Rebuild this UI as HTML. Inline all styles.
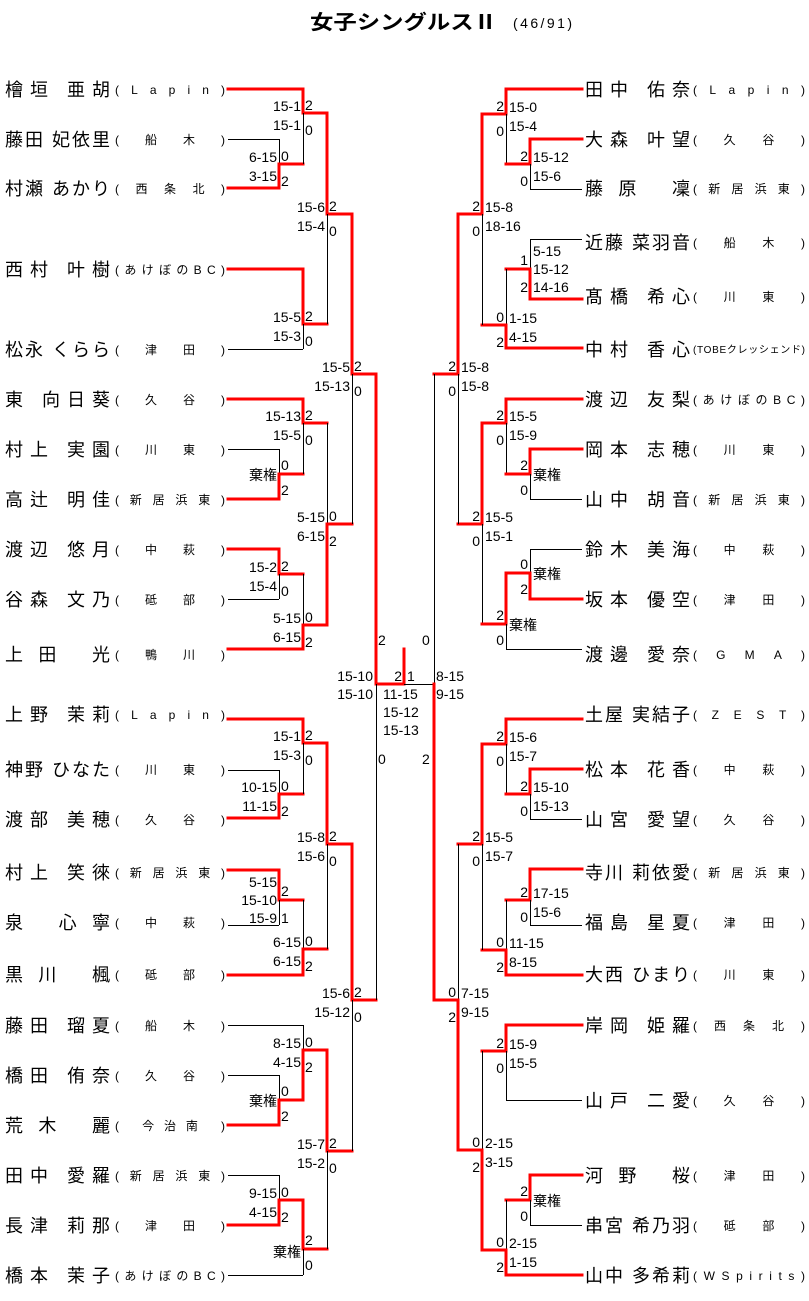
<!DOCTYPE html>
<html><head><meta charset="utf-8"><style>
html,body{margin:0;padding:0;background:#fff;}
svg{display:block;}
text{font-family:"Liberation Sans","Noto Sans CJK JP",sans-serif;fill:#000;}
.r{stroke:#f00;stroke-width:3;stroke-linecap:square;fill:none;}
.b{stroke:#000;stroke-width:1;fill:none;}
.s{font-size:14px;}
.n{font-size:18px;}
.t{font-size:12px;}
</style></head><body>
<svg width="809" height="1301" viewBox="0 0 809 1301" xmlns="http://www.w3.org/2000/svg">
<text x="310" y="29" style="font-size:20px;font-weight:bold" textLength="187" lengthAdjust="spacingAndGlyphs">女子シングルスⅡ</text>
<text x="513" y="28" style="font-size:14px" textLength="59" lengthAdjust="spacing">(46/91)</text>

<g>
<line class="r" x1="228" y1="89" x2="303" y2="89"/>
<line class="b" x1="228" y1="139.5" x2="279" y2="139.5"/>
<line class="r" x1="228" y1="188" x2="279" y2="188"/>
<line class="r" x1="228" y1="269" x2="303" y2="269"/>
<line class="b" x1="228" y1="349.5" x2="303" y2="349.5"/>
<line class="r" x1="228" y1="399" x2="303" y2="399"/>
<line class="b" x1="228" y1="449.5" x2="279" y2="449.5"/>
<line class="r" x1="228" y1="499" x2="279" y2="499"/>
<line class="r" x1="228" y1="549" x2="279" y2="549"/>
<line class="b" x1="228" y1="599.5" x2="279" y2="599.5"/>
<line class="r" x1="228" y1="649" x2="303" y2="649"/>
<line class="r" x1="228" y1="719" x2="303" y2="719"/>
<line class="b" x1="228" y1="770.5" x2="279" y2="770.5"/>
<line class="r" x1="228" y1="818" x2="279" y2="818"/>
<line class="r" x1="228" y1="870" x2="279" y2="870"/>
<line class="b" x1="228" y1="925.5" x2="279" y2="925.5"/>
<line class="r" x1="228" y1="975" x2="303" y2="975"/>
<line class="b" x1="228" y1="1025.5" x2="303" y2="1025.5"/>
<line class="b" x1="228" y1="1075.5" x2="279" y2="1075.5"/>
<line class="r" x1="228" y1="1125" x2="279" y2="1125"/>
<line class="b" x1="228" y1="1175.5" x2="279" y2="1175.5"/>
<line class="r" x1="228" y1="1225" x2="279" y2="1225"/>
<line class="b" x1="228" y1="1275.5" x2="303" y2="1275.5"/>
</g>
<g>
<line class="b" x1="279.5" y1="139" x2="279.5" y2="164"/><polyline class="r" points="279,188 279,164 303,164"/>
<polyline class="r" points="303,89 303,113 327,113"/><line class="b" x1="303.5" y1="113" x2="303.5" y2="164"/>
<polyline class="r" points="303,269 303,324 327,324"/><line class="b" x1="303.5" y1="324" x2="303.5" y2="349"/>
<polyline class="r" points="327,113 327,214 352,214"/><line class="b" x1="327.5" y1="214" x2="327.5" y2="324"/>
<line class="b" x1="279.5" y1="449" x2="279.5" y2="474"/><polyline class="r" points="279,499 279,474 303,474"/>
<polyline class="r" points="303,399 303,423 327,423"/><line class="b" x1="303.5" y1="423" x2="303.5" y2="474"/>
<polyline class="r" points="279,549 279,574 303,574"/><line class="b" x1="279.5" y1="574" x2="279.5" y2="599"/>
<line class="b" x1="303.5" y1="574" x2="303.5" y2="625"/><polyline class="r" points="303,649 303,625 327,625"/>
<line class="b" x1="327.5" y1="423" x2="327.5" y2="524"/><polyline class="r" points="327,625 327,524 352,524"/>
<polyline class="r" points="352,214 352,374 376,374"/><line class="b" x1="352.5" y1="374" x2="352.5" y2="524"/>
<line class="b" x1="279.5" y1="770" x2="279.5" y2="794"/><polyline class="r" points="279,818 279,794 303,794"/>
<polyline class="r" points="303,719 303,743 327,743"/><line class="b" x1="303.5" y1="743" x2="303.5" y2="794"/>
<polyline class="r" points="279,870 279,900 303,900"/><line class="b" x1="279.5" y1="900" x2="279.5" y2="925"/>
<line class="b" x1="303.5" y1="900" x2="303.5" y2="949"/><polyline class="r" points="303,975 303,949 327,949"/>
<polyline class="r" points="327,743 327,844 352,844"/><line class="b" x1="327.5" y1="844" x2="327.5" y2="949"/>
<line class="b" x1="303.5" y1="1025" x2="303.5" y2="1050"/><polyline class="r" points="303,1100 303,1050 327,1050"/>
<line class="b" x1="279.5" y1="1075" x2="279.5" y2="1100"/><polyline class="r" points="279,1125 279,1100 303,1100"/>
<line class="b" x1="279.5" y1="1175" x2="279.5" y2="1200"/><polyline class="r" points="279,1225 279,1200 303,1200"/>
<polyline class="r" points="303,1200 303,1249 327,1249"/><line class="b" x1="303.5" y1="1249" x2="303.5" y2="1275"/>
<polyline class="r" points="327,1050 327,1151 352,1151"/><line class="b" x1="327.5" y1="1151" x2="327.5" y2="1249"/>
<polyline class="r" points="352,844 352,1000 376,1000"/><line class="b" x1="352.5" y1="1000" x2="352.5" y2="1151"/>
<polyline class="r" points="376,374 376,684 404,684 404,649"/><line class="b" x1="376.5" y1="684" x2="376.5" y2="1000"/>
<line class="b" x1="404" y1="684.5" x2="434" y2="684.5"/>
</g>

<g>
<line class="r" x1="506" y1="89" x2="582" y2="89"/>
<line class="r" x1="530" y1="139" x2="582" y2="139"/>
<line class="b" x1="530" y1="189.5" x2="582" y2="189.5"/>
<line class="b" x1="530" y1="239.5" x2="582" y2="239.5"/>
<line class="r" x1="530" y1="299" x2="582" y2="299"/>
<line class="r" x1="506" y1="348" x2="582" y2="348"/>
<line class="r" x1="506" y1="399" x2="582" y2="399"/>
<line class="r" x1="530" y1="449" x2="582" y2="449"/>
<line class="b" x1="530" y1="499.5" x2="582" y2="499.5"/>
<line class="b" x1="530" y1="549.5" x2="582" y2="549.5"/>
<line class="r" x1="530" y1="599" x2="582" y2="599"/>
<line class="b" x1="506" y1="649.5" x2="582" y2="649.5"/>
<line class="r" x1="506" y1="719" x2="582" y2="719"/>
<line class="r" x1="530" y1="769" x2="582" y2="769"/>
<line class="b" x1="530" y1="819.5" x2="582" y2="819.5"/>
<line class="r" x1="530" y1="869" x2="582" y2="869"/>
<line class="b" x1="530" y1="925.5" x2="582" y2="925.5"/>
<line class="r" x1="506" y1="975" x2="582" y2="975"/>
<line class="r" x1="506" y1="1025" x2="582" y2="1025"/>
<line class="b" x1="506" y1="1100.5" x2="582" y2="1100.5"/>
<line class="r" x1="530" y1="1175" x2="582" y2="1175"/>
<line class="b" x1="530" y1="1225.5" x2="582" y2="1225.5"/>
<line class="r" x1="506" y1="1275" x2="582" y2="1275"/>
</g>
<g>
<polyline class="r" points="506,89 506,114 482,114"/><line class="b" x1="506.5" y1="114" x2="506.5" y2="164"/>
<polyline class="r" points="530,139 530,164 506,164"/><line class="b" x1="530.5" y1="164" x2="530.5" y2="189"/>
<line class="b" x1="530.5" y1="239" x2="530.5" y2="269"/><polyline class="r" points="530,299 530,269 506,269"/>
<line class="b" x1="506.5" y1="269" x2="506.5" y2="325"/><polyline class="r" points="506,348 506,325 482,325"/>
<polyline class="r" points="482,114 482,214 458,214"/><line class="b" x1="482.5" y1="214" x2="482.5" y2="325"/>
<polyline class="r" points="506,399 506,423 482,423"/><line class="b" x1="506.5" y1="423" x2="506.5" y2="474"/>
<polyline class="r" points="530,449 530,474 506,474"/><line class="b" x1="530.5" y1="474" x2="530.5" y2="499"/>
<polyline class="r" points="482,423 482,524 458,524"/><line class="b" x1="482.5" y1="524" x2="482.5" y2="624"/>
<line class="b" x1="530.5" y1="549" x2="530.5" y2="573"/><polyline class="r" points="530,599 530,573 506,573"/>
<polyline class="r" points="506,573 506,624 482,624"/><line class="b" x1="506.5" y1="624" x2="506.5" y2="649"/>
<polyline class="r" points="458,214 458,374 434,374"/><line class="b" x1="458.5" y1="374" x2="458.5" y2="524"/>
<line class="b" x1="434.5" y1="374" x2="434.5" y2="684"/><polyline class="r" points="434,684 434,1000 458,1000"/>
<polyline class="r" points="506,719 506,744 482,744"/><line class="b" x1="506.5" y1="744" x2="506.5" y2="794"/>
<polyline class="r" points="530,769 530,794 506,794"/><line class="b" x1="530.5" y1="794" x2="530.5" y2="819"/>
<polyline class="r" points="530,869 530,900 506,900"/><line class="b" x1="530.5" y1="900" x2="530.5" y2="925"/>
<line class="b" x1="506.5" y1="900" x2="506.5" y2="950"/><polyline class="r" points="506,975 506,950 482,950"/>
<polyline class="r" points="482,744 482,844 458,844"/><line class="b" x1="482.5" y1="844" x2="482.5" y2="950"/>
<line class="b" x1="458.5" y1="844" x2="458.5" y2="1000"/><polyline class="r" points="458,1000 458,1150 482,1150"/>
<polyline class="r" points="506,1025 506,1051 482,1051"/><line class="b" x1="506.5" y1="1051" x2="506.5" y2="1100"/>
<polyline class="r" points="530,1175 530,1200 506,1200"/><line class="b" x1="530.5" y1="1200" x2="530.5" y2="1225"/>
<line class="b" x1="506.5" y1="1200" x2="506.5" y2="1250"/><polyline class="r" points="506,1275 506,1250 482,1250"/>
<line class="b" x1="482.5" y1="1051" x2="482.5" y2="1150"/><polyline class="r" points="482,1150 482,1250"/>
</g>

<g class="s" text-anchor="end">
<text x="277" y="162">6-15</text><text x="277" y="181">3-15</text>
<text x="301" y="111">15-1</text><text x="301" y="130">15-1</text>
<text x="301" y="322">15-5</text><text x="301" y="341">15-3</text>
<text x="325" y="212">15-6</text><text x="325" y="231">15-4</text>
<text x="277" y="480">棄権</text>
<text x="301" y="421">15-13</text><text x="301" y="440">15-5</text>
<text x="277" y="572">15-2</text><text x="277" y="591">15-4</text>
<text x="301" y="623">5-15</text><text x="301" y="642">6-15</text>
<text x="325" y="522">5-15</text><text x="325" y="541">6-15</text>
<text x="350" y="372">15-5</text><text x="350" y="391">15-13</text>
<text x="277" y="792">10-15</text><text x="277" y="811">11-15</text>
<text x="301" y="741">15-1</text><text x="301" y="760">15-3</text>
<text x="277" y="887">5-15</text><text x="277" y="905">15-10</text><text x="277" y="923">15-9</text>
<text x="301" y="947">6-15</text><text x="301" y="966">6-15</text>
<text x="325" y="842">15-8</text><text x="325" y="861">15-6</text>
<text x="301" y="1048">8-15</text><text x="301" y="1067">4-15</text>
<text x="277" y="1106">棄権</text>
<text x="277" y="1198">9-15</text><text x="277" y="1217">4-15</text>
<text x="301" y="1257">棄権</text>
<text x="325" y="1149">15-7</text><text x="325" y="1168">15-2</text>
<text x="350" y="998">15-6</text><text x="350" y="1017">15-12</text>
<text x="373" y="681">15-10</text><text x="373" y="699">15-10</text>
<text x="402" y="681">2</text>
</g>
<g class="s">
<text x="281" y="161">0</text><text x="281" y="186">2</text>
<text x="305" y="110">2</text><text x="305" y="135">0</text>
<text x="305" y="321">2</text><text x="305" y="346">0</text>
<text x="329" y="211">2</text><text x="329" y="236">0</text>
<text x="281" y="470">0</text><text x="281" y="495">2</text>
<text x="305" y="420">2</text><text x="305" y="445">0</text>
<text x="281" y="571">2</text><text x="281" y="596">0</text>
<text x="305" y="622">0</text><text x="305" y="647">2</text>
<text x="329" y="521">0</text><text x="329" y="546">2</text>
<text x="354" y="371">2</text><text x="354" y="396">0</text>
<text x="281" y="791">0</text><text x="281" y="816">2</text>
<text x="305" y="740">2</text><text x="305" y="765">0</text>
<text x="281" y="896">2</text><text x="281" y="923">1</text>
<text x="305" y="946">0</text><text x="305" y="971">2</text>
<text x="329" y="841">2</text><text x="329" y="866">0</text>
<text x="305" y="1047">0</text><text x="305" y="1072">2</text>
<text x="281" y="1096">0</text><text x="281" y="1121">2</text>
<text x="281" y="1197">0</text><text x="281" y="1222">2</text>
<text x="305" y="1245">2</text><text x="305" y="1270">0</text>
<text x="329" y="1148">2</text><text x="329" y="1173">0</text>
<text x="354" y="997">2</text><text x="354" y="1022">0</text>
<text x="378" y="645">2</text><text x="378" y="764">0</text>
<text x="407" y="681">1</text>
<text x="383" y="699">11-15</text><text x="383" y="717">15-12</text><text x="383" y="735">15-13</text>
<text x="436" y="681">8-15</text><text x="436" y="699">9-15</text>
<text x="422" y="645">0</text><text x="422" y="764">2</text>
</g>

<g class="s">
<text x="509" y="112">15-0</text><text x="509" y="131">15-4</text>
<text x="533" y="162">15-12</text><text x="533" y="181">15-6</text>
<text x="533" y="256">5-15</text><text x="533" y="274">15-12</text><text x="533" y="292">14-16</text>
<text x="509" y="323">1-15</text><text x="509" y="342">4-15</text>
<text x="485" y="212">15-8</text><text x="485" y="231">18-16</text>
<text x="509" y="421">15-5</text><text x="509" y="440">15-9</text>
<text x="533" y="480">棄権</text>
<text x="485" y="522">15-5</text><text x="485" y="541">15-1</text>
<text x="533" y="579">棄権</text>
<text x="509" y="630">棄権</text>
<text x="461" y="372">15-8</text><text x="461" y="391">15-8</text>
<text x="509" y="742">15-6</text><text x="509" y="761">15-7</text>
<text x="533" y="792">15-10</text><text x="533" y="811">15-13</text>
<text x="533" y="898">17-15</text><text x="533" y="917">15-6</text>
<text x="509" y="948">11-15</text><text x="509" y="967">8-15</text>
<text x="485" y="842">15-5</text><text x="485" y="861">15-7</text>
<text x="461" y="998">7-15</text><text x="461" y="1017">9-15</text>
<text x="509" y="1049">15-9</text><text x="509" y="1068">15-5</text>
<text x="533" y="1206">棄権</text>
<text x="509" y="1248">2-15</text><text x="509" y="1267">1-15</text>
<text x="485" y="1148">2-15</text><text x="485" y="1167">3-15</text>
</g>
<g class="s" text-anchor="end">
<text x="504" y="111">2</text><text x="504" y="136">0</text>
<text x="528" y="161">2</text><text x="528" y="186">0</text>
<text x="528" y="265">1</text><text x="528" y="292">2</text>
<text x="504" y="322">0</text><text x="504" y="347">2</text>
<text x="480" y="211">2</text><text x="480" y="236">0</text>
<text x="504" y="420">2</text><text x="504" y="445">0</text>
<text x="528" y="470">2</text><text x="528" y="495">0</text>
<text x="480" y="521">2</text><text x="480" y="546">0</text>
<text x="528" y="569">0</text><text x="528" y="594">2</text>
<text x="504" y="620">2</text><text x="504" y="645">0</text>
<text x="456" y="371">2</text><text x="456" y="396">0</text>
<text x="504" y="741">2</text><text x="504" y="766">0</text>
<text x="528" y="791">2</text><text x="528" y="816">0</text>
<text x="528" y="897">2</text><text x="528" y="922">0</text>
<text x="504" y="947">0</text><text x="504" y="972">2</text>
<text x="480" y="841">2</text><text x="480" y="866">0</text>
<text x="456" y="997">0</text><text x="456" y="1022">2</text>
<text x="504" y="1048">2</text><text x="504" y="1073">0</text>
<text x="528" y="1196">2</text><text x="528" y="1221">0</text>
<text x="504" y="1247">0</text><text x="504" y="1272">2</text>
<text x="480" y="1147">0</text><text x="480" y="1172">2</text>
</g>

<g class="n" lengthAdjust="spacing">
<text x="5" y="96" textLength="105">檜垣 亜胡</text>
<text x="5" y="146" textLength="105">藤田 妃依里</text>
<text x="5" y="195" textLength="105">村瀬 あかり</text>
<text x="5" y="276" textLength="105">西村 叶樹</text>
<text x="5" y="356" textLength="105">松永 くらら</text>
<text x="5" y="406" textLength="105">東 向日葵</text>
<text x="5" y="456" textLength="105">村上 実園</text>
<text x="5" y="506" textLength="105">高辻 明佳</text>
<text x="5" y="556" textLength="105">渡辺 悠月</text>
<text x="5" y="606" textLength="105">谷森 文乃</text>
<text x="5" y="661" textLength="105">上田 光</text>
<text x="5" y="721" textLength="105">上野 茉莉</text>
<text x="5" y="776" textLength="105">神野 ひなた</text>
<text x="5" y="826" textLength="105">渡部 美穂</text>
<text x="5" y="879" textLength="105">村上 笑徠</text>
<text x="5" y="929" textLength="105">泉 心寧</text>
<text x="5" y="981" textLength="105">黒川 楓</text>
<text x="5" y="1032" textLength="105">藤田 瑠夏</text>
<text x="5" y="1082" textLength="105">橋田 侑奈</text>
<text x="5" y="1132" textLength="105">荒木 麗</text>
<text x="5" y="1182" textLength="105">田中 愛羅</text>
<text x="5" y="1232" textLength="105">長津 莉那</text>
<text x="5" y="1282" textLength="105">橋本 茉子</text>
</g>
<g class="t" lengthAdjust="spacing">
<text x="115" y="94" textLength="110">(Lapin)</text>
<text x="115" y="144" textLength="110">( 船 木 )</text>
<text x="115" y="193" textLength="110">( 西 条 北 )</text>
<text x="115" y="274" textLength="110">(あけぼのBC)</text>
<text x="115" y="354" textLength="110">( 津 田 )</text>
<text x="115" y="404" textLength="110">( 久 谷 )</text>
<text x="115" y="454" textLength="110">( 川 東 )</text>
<text x="115" y="504" textLength="110">(新居浜東)</text>
<text x="115" y="554" textLength="110">( 中 萩 )</text>
<text x="115" y="604" textLength="110">( 砥 部 )</text>
<text x="115" y="659" textLength="110">( 鴨 川 )</text>
<text x="115" y="719" textLength="110">(Lapin)</text>
<text x="115" y="774" textLength="110">( 川 東 )</text>
<text x="115" y="824" textLength="110">( 久 谷 )</text>
<text x="115" y="877" textLength="110">(新居浜東)</text>
<text x="115" y="927" textLength="110">( 中 萩 )</text>
<text x="115" y="979" textLength="110">( 砥 部 )</text>
<text x="115" y="1030" textLength="110">( 船 木 )</text>
<text x="115" y="1080" textLength="110">( 久 谷 )</text>
<text x="115" y="1130" textLength="110">( 今治南 )</text>
<text x="115" y="1180" textLength="110">(新居浜東)</text>
<text x="115" y="1230" textLength="110">( 津 田 )</text>
<text x="115" y="1280" textLength="110">(あけぼのBC)</text>
</g>

<g class="n" lengthAdjust="spacing">
<text x="585" y="96" textLength="105">田中 佑奈</text>
<text x="585" y="146" textLength="105">大森 叶望</text>
<text x="585" y="195" textLength="105">藤原 凜</text>
<text x="585" y="249" textLength="105">近藤 菜羽音</text>
<text x="585" y="303" textLength="105">髙橋 希心</text>
<text x="585" y="356" textLength="105">中村 香心</text>
<text x="585" y="406" textLength="105">渡辺 友梨</text>
<text x="585" y="456" textLength="105">岡本 志穂</text>
<text x="585" y="506" textLength="105">山中 胡音</text>
<text x="585" y="556" textLength="105">鈴木 美海</text>
<text x="585" y="606" textLength="105">坂本 優空</text>
<text x="585" y="661" textLength="105">渡邊 愛奈</text>
<text x="585" y="721" textLength="105">土屋 実結子</text>
<text x="585" y="776" textLength="105">松本 花香</text>
<text x="585" y="826" textLength="105">山宮 愛望</text>
<text x="585" y="879" textLength="105">寺川 莉依愛</text>
<text x="585" y="929" textLength="105">福島 星夏</text>
<text x="585" y="981" textLength="105">大西 ひまり</text>
<text x="585" y="1032" textLength="105">岸岡 姫羅</text>
<text x="585" y="1107" textLength="105">山戸 二愛</text>
<text x="585" y="1182" textLength="105">河野 桜</text>
<text x="585" y="1232" textLength="105">串宮 希乃羽</text>
<text x="585" y="1282" textLength="105">山中 多希莉</text>
</g>
<g class="t" lengthAdjust="spacing">
<text x="693" y="94" textLength="112">(Lapin)</text>
<text x="693" y="144" textLength="112">( 久 谷 )</text>
<text x="693" y="193" textLength="112">(新居浜東)</text>
<text x="693" y="247" textLength="112">( 船 木 )</text>
<text x="693" y="301" textLength="112">( 川 東 )</text>
<text x="693" y="353" textLength="112" style="font-size:10px">(TOBEクレッシェンド)</text>
<text x="693" y="404" textLength="112">(あけぼのBC)</text>
<text x="693" y="454" textLength="112">( 川 東 )</text>
<text x="693" y="504" textLength="112">(新居浜東)</text>
<text x="693" y="554" textLength="112">( 中 萩 )</text>
<text x="693" y="604" textLength="112">( 津 田 )</text>
<text x="693" y="659" textLength="112">(GMA)</text>
<text x="693" y="719" textLength="112">(ZEST)</text>
<text x="693" y="774" textLength="112">( 中 萩 )</text>
<text x="693" y="824" textLength="112">( 久 谷 )</text>
<text x="693" y="877" textLength="112">(新居浜東)</text>
<text x="693" y="927" textLength="112">( 津 田 )</text>
<text x="693" y="979" textLength="112">( 川 東 )</text>
<text x="693" y="1030" textLength="112">( 西 条 北 )</text>
<text x="693" y="1105" textLength="112">( 久 谷 )</text>
<text x="693" y="1180" textLength="112">( 津 田 )</text>
<text x="693" y="1230" textLength="112">( 砥 部 )</text>
<text x="693" y="1280" textLength="112">(WSpirits)</text>
</g>
</svg>
</body></html>
